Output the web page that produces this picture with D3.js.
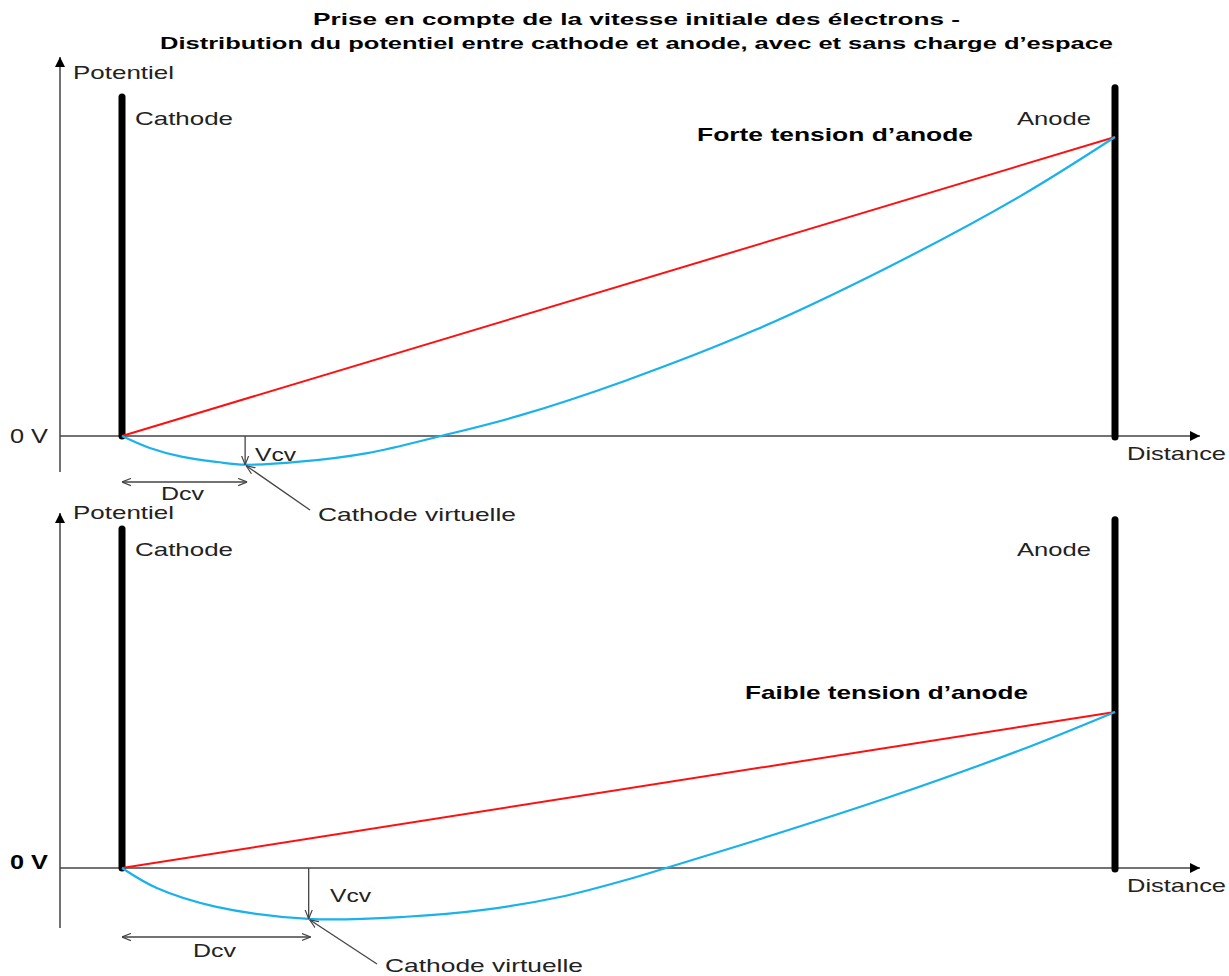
<!DOCTYPE html>
<html>
<head>
<meta charset="utf-8">
<script src="https://cdn.jsdelivr.net/npm/d3@7"></script>
<style>
  html, body { margin: 0; padding: 0; background: #fff; }
  svg { display: block; font-family: "Liberation Sans", Arial, sans-serif; }
</style>
</head>
<body>
<svg id="chart" width="1229" height="976"></svg>
<script>
// ---------------- DATA ----------------
const titleLines = [
  "Prise en compte de la vitesse initiale des électrons -",
  "Distribution du potentiel entre cathode et anode, avec et sans charge d’espace"
];
// normalized distance from cathode (0) to anode (1)
const topDistance   = [0, 0.028, 0.061, 0.096, 0.124, 0.179, 0.247, 0.321, 0.400, 0.507, 0.638, 0.770, 0.903, 1];
// potential with space charge (high anode voltage), anode = 1
const topWithCharge = [0, -0.040, -0.070, -0.087, -0.096, -0.086, -0.057, 0, 0.068, 0.185, 0.355, 0.562, 0.799, 1];
const topNoChargeDistance = [0, 1];
const topNoCharge   = [0, 1];

const bottomDistance   = [0, 0.035, 0.094, 0.188, 0.286, 0.364, 0.441, 0.518, 0.548, 0.638, 0.770, 0.903, 1];
const bottomWithCharge = [0, -0.067, -0.129, -0.170, -0.163, -0.140, -0.097, -0.030, 0, 0.092, 0.234, 0.392, 0.522];
const bottomNoChargeDistance = [0, 1];
const bottomNoCharge   = [0, 0.522];

// virtual cathode (Dcv, Vcv)
const topVirtualCathode    = { d: 0.124, v: -0.096 };
const bottomVirtualCathode = { d: 0.188, v: -0.170 };

const panelCaptions = ["Forte tension d’anode", "Faible tension d’anode"];
const axisLabels = { y: "Potentiel", x: "Distance", zero: "0 V" };
const electrodeLabels = ["Cathode", "Anode"];
const markLabels = { v: "Vcv", d: "Dcv", cv: "Cathode virtuelle" };

// electrode heights (in potential units, above 0)
const cathodeTop = 1.134;
const anodeTop = 1.165;

// ---------------- LAYOUT ----------------
const svg = d3.select("#chart");
const x = d3.scaleLinear().domain([0, 1]).range([122, 1115]);
const pxPerUnit = 299;

const panels = [
  {
    dist: topDistance, charge: topWithCharge, ncDist: topNoChargeDistance, nc: topNoCharge,
    vc: topVirtualCathode, caption: panelCaptions[0],
    zeroY: 436, axisTop: 57, axisBottom: 472,
    pot: [73, 79], cath: [135, 125], anode: [1017, 125],
    cap: [697, 141, 276], zero: [10, 442.5, false], dist_: [1127, 460],
    vcv: [255, 461], dcvY: 482, dcv: [161, 500], leader: [310, 510], cv: [318, 521]
  },
  {
    dist: bottomDistance, charge: bottomWithCharge, ncDist: bottomNoChargeDistance, nc: bottomNoCharge,
    vc: bottomVirtualCathode, caption: panelCaptions[1],
    zeroY: 868, axisTop: 513, axisBottom: 928,
    pot: [73, 519], cath: [135, 556], anode: [1017, 556],
    cap: [745, 699, 283], zero: [10, 869, true], dist_: [1127, 892],
    vcv: [330, 902], dcvY: 937, dcv: [193, 957], leader: [377, 964], cv: [385, 972]
  }
];

// markers
const defs = svg.append("defs");
defs.append("marker").attr("id", "tri").attr("viewBox", "0 0 10 10")
  .attr("refX", 10).attr("refY", 5).attr("markerWidth", 20).attr("markerHeight", 10)
  .attr("markerUnits", "userSpaceOnUse").attr("orient", "auto")
  .append("path").attr("d", "M0,0 L10,5 L0,10 Z").attr("fill", "#000");
defs.append("marker").attr("id", "chev").attr("viewBox", "0 0 10 10")
  .attr("refX", 10).attr("refY", 5).attr("markerWidth", 9).attr("markerHeight", 9)
  .attr("markerUnits", "userSpaceOnUse").attr("orient", "auto-start-reverse")
  .append("path").attr("d", "M0,1 L10,5 L0,9").attr("fill", "none")
  .attr("stroke", "#444").attr("stroke-width", 1.3);

// title
const titleText = svg.append("g");
[[313, 25, 647], [160, 49, 953]].forEach((p, i) => {
  titleText.append("text").attr("x", p[0]).attr("y", p[1])
    .attr("textLength", p[2]).attr("lengthAdjust", "spacingAndGlyphs")
    .attr("font-size", 17).attr("font-weight", "bold").attr("fill", "#000")
    .text(titleLines[i]);
});

function label(g, txt, px, py, w, size, bold) {
  g.append("text").attr("x", px).attr("y", py)
    .attr("textLength", w).attr("lengthAdjust", "spacingAndGlyphs")
    .attr("font-size", size).attr("font-weight", bold ? "bold" : "normal")
    .attr("fill", bold ? "#000" : "#222").text(txt);
}

panels.forEach(p => {
  const y = d3.scaleLinear().domain([0, 1]).range([p.zeroY, p.zeroY - pxPerUnit]);
  const g = svg.append("g");

  // axes
  g.append("line").attr("x1", 60).attr("x2", 60)
    .attr("y1", p.axisBottom).attr("y2", p.axisTop)
    .attr("stroke", "#444").attr("stroke-width", 1.5).attr("marker-end", "url(#tri)");
  g.append("line").attr("x1", 60).attr("x2", 1200)
    .attr("y1", y(0)).attr("y2", y(0))
    .attr("stroke", "#444").attr("stroke-width", 1.5).attr("marker-end", "url(#tri)");

  // electrodes
  g.append("line").attr("x1", x(0)).attr("x2", x(0))
    .attr("y1", y(0)).attr("y2", y(cathodeTop))
    .attr("stroke", "#000").attr("stroke-width", 7).attr("stroke-linecap", "round");
  g.append("line").attr("x1", x(1)).attr("x2", x(1))
    .attr("y1", y(0) + 1).attr("y2", y(anodeTop))
    .attr("stroke", "#000").attr("stroke-width", 7).attr("stroke-linecap", "round");

  // no space charge (red)
  const ncData = p.ncDist.map((d, i) => [d, p.nc[i]]);
  g.append("path").datum(ncData)
    .attr("d", d3.line().x(d => x(d[0])).y(d => y(d[1])))
    .attr("fill", "none").attr("stroke", "#ff1010").attr("stroke-width", 2);

  // with space charge (blue)
  const cData = p.dist.map((d, i) => [d, p.charge[i]]);
  g.append("path").datum(cData)
    .attr("d", d3.line().curve(d3.curveCatmullRom.alpha(0.5)).x(d => x(d[0])).y(d => y(d[1])))
    .attr("fill", "none").attr("stroke", "#1ab2ea").attr("stroke-width", 2.2);

  // Vcv line
  g.append("line").attr("x1", x(p.vc.d)).attr("x2", x(p.vc.d))
    .attr("y1", y(0)).attr("y2", y(p.vc.v))
    .attr("stroke", "#444").attr("stroke-width", 1.3).attr("marker-end", "url(#chev)");
  // Dcv dimension
  g.append("line").attr("x1", x(0)).attr("x2", x(p.vc.d) + 2)
    .attr("y1", p.dcvY).attr("y2", p.dcvY)
    .attr("stroke", "#444").attr("stroke-width", 1.3)
    .attr("marker-start", "url(#chev)").attr("marker-end", "url(#chev)");
  // leader to virtual cathode
  g.append("line").attr("x1", p.leader[0]).attr("y1", p.leader[1])
    .attr("x2", x(p.vc.d) + 1).attr("y2", y(p.vc.v) + 1)
    .attr("stroke", "#444").attr("stroke-width", 1.3).attr("marker-end", "url(#chev)");

  // labels
  label(g, axisLabels.y, p.pot[0], p.pot[1], 101, 19, false);
  label(g, electrodeLabels[0], p.cath[0], p.cath[1], 98, 19, false);
  label(g, electrodeLabels[1], p.anode[0], p.anode[1], 74, 19, false);
  label(g, p.caption, p.cap[0], p.cap[1], p.cap[2], 19, true);
  label(g, axisLabels.zero, p.zero[0], p.zero[1], 38, 20, p.zero[2]);
  label(g, axisLabels.x, p.dist_[0], p.dist_[1], 99, 19, false);
  label(g, markLabels.v, p.vcv[0], p.vcv[1], 41, 19, false);
  label(g, markLabels.d, p.dcv[0], p.dcv[1], 43, 19, false);
  label(g, markLabels.cv, p.cv[0], p.cv[1], 198, 19, false);
});
</script>
</body>
</html>
